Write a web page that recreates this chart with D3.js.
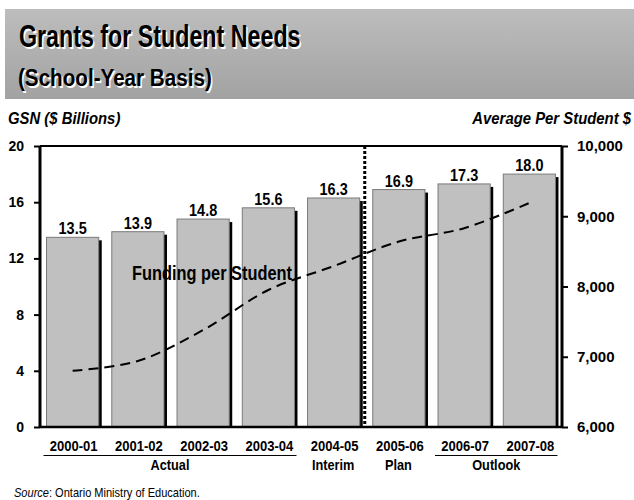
<!DOCTYPE html>
<html>
<head>
<meta charset="utf-8">
<script src="https://cdn.jsdelivr.net/npm/d3@7/dist/d3.min.js"></script>
<style>
  html, body { margin: 0; padding: 0; background: #fff; }
  svg { display: block; }
  text { font-family: "Liberation Sans", Arial, sans-serif; }
</style>
</head>
<body>
<svg id="chart" width="634" height="500"></svg>
<script>
// School years and Grants for Student Needs ($ billions)
const years = ["2000-01", "2001-02", "2002-03", "2003-04", "2004-05", "2005-06", "2006-07", "2007-08"];
const gsnBillions = [13.5, 13.9, 14.8, 15.6, 16.3, 16.9, 17.3, 18.0];
// Average funding per student ($)
const perStudent = [6800, 6940, 7380, 7950, 8290, 8640, 8830, 9190];

// Axis ticks
const leftTicks = [0, 4, 8, 12, 16, 20];
const rightTicks = [6000, 7000, 8000, 9000, 10000];

// Period groupings under the year labels
const groupLabels = ["Actual", "Interim", "Plan", "Outlook"];
const groupFirst = [0, 4, 5, 6];
const groupLast = [3, 4, 5, 7];
const groupUnderline = [true, false, false, true];

const svg = d3.select("#chart");

// Text drawn in a horizontally condensed bold face
function label(parent, x, y, str, size, opts = {}) {
  const sx = opts.sx ?? 0.85;
  const t = parent.append("text")
    .attr("transform", `translate(${x},${y}) scale(${sx},1)`)
    .attr("font-size", size)
    .attr("font-weight", opts.weight ?? "bold")
    .attr("text-anchor", opts.anchor ?? "start")
    .attr("fill", opts.fill ?? "#000");
  if (opts.italic) t.attr("font-style", "italic");
  if (str !== null) t.text(str);
  return t;
}

// ---- Title banner ----
const defs = svg.append("defs");
const grad = defs.append("linearGradient").attr("id", "banner").attr("x1", 0).attr("y1", 0).attr("x2", 0).attr("y2", 1);
grad.append("stop").attr("offset", "0%").attr("stop-color", "#bdbdbd");
grad.append("stop").attr("offset", "100%").attr("stop-color", "#a2a2a2");
svg.append("rect").attr("x", 5).attr("y", 9).attr("width", 629).attr("height", 90).attr("fill", "url(#banner)");

function shadowText(x, y, str, size, sx) {
  label(svg, x + 1.5, y + 1.5, str, size, { sx, fill: "#fff" });
  label(svg, x, y, str, size, { sx });
}
shadowText(19, 47, "Grants for Student Needs", 31, 0.75);
shadowText(18, 86, "(School-Year Basis)", 24, 0.86);

// ---- Scales ----
const plotLeft = 40, plotRight = 562, plotTop = 146, plotBottom = 427;
const x = d3.scaleBand().domain(years).range([plotLeft, plotRight]).paddingInner(0.2).paddingOuter(0.1);
const yL = d3.scaleLinear().domain([0, 20]).range([plotBottom, plotTop]);
const yR = d3.scaleLinear().domain([6000, 10000]).range([plotBottom, plotTop]);
const bw = x.bandwidth();

// ---- Axis titles ----
label(svg, 8, 124, "GSN ($ Billions)", 16, { italic: true, sx: 0.93 });
label(svg, 631, 124, "Average Per Student $", 16, { italic: true, anchor: "end", sx: 0.93 });

// ---- Bars with drop shadow ----
const bars = svg.append("g");
years.forEach((yr, i) => {
  const bx = x(yr), top = yL(gsnBillions[i]);
  bars.append("rect").attr("x", bx + 3).attr("y", top + 3).attr("width", bw).attr("height", plotBottom - top - 3)
    .attr("fill", "#000");
  bars.append("rect").attr("x", bx).attr("y", top).attr("width", bw).attr("height", plotBottom - top)
    .attr("fill", "#c0c0c0").attr("stroke", "#7a7a7a").attr("stroke-width", 1);
  label(svg, bx + bw / 2, top - 3, gsnBillions[i].toFixed(1), 17, { anchor: "middle", sx: 0.85 });
});

// ---- Divider between interim and plan years ----
const divX = (x(years[4]) + bw + x(years[5])) / 2 - 1.5;
svg.append("line").attr("x1", divX).attr("x2", divX).attr("y1", plotTop).attr("y2", plotBottom)
  .attr("stroke", "#000").attr("stroke-width", 3).attr("stroke-dasharray", "3,2");

// ---- Frame and axes ----
svg.append("line").attr("x1", plotLeft).attr("x2", plotRight).attr("y1", plotTop).attr("y2", plotTop)
  .attr("stroke", "#000").attr("stroke-width", 2);
svg.append("line").attr("x1", plotLeft).attr("x2", plotRight).attr("y1", plotBottom).attr("y2", plotBottom)
  .attr("stroke", "#000").attr("stroke-width", 2.5);

const leftAxis = svg.append("g").attr("transform", `translate(${plotLeft},0)`)
  .call(d3.axisLeft(yL).tickValues(leftTicks).tickSize(6).tickPadding(10).tickFormat(d3.format("d")));
leftAxis.select(".domain").attr("stroke-width", 3).attr("d", `M0,${plotTop}V${plotBottom}`);
leftAxis.selectAll(".tick line").attr("stroke-width", 2);
leftAxis.selectAll(".tick text").attr("font-family", "'Liberation Sans', Arial, sans-serif")
  .attr("font-weight", "bold").attr("font-size", 14).attr("fill", "#000");

const rightAxis = svg.append("g").attr("transform", `translate(${plotRight},0)`)
  .call(d3.axisRight(yR).tickValues(rightTicks).tickSize(6).tickPadding(9).tickFormat(d3.format(",")));
rightAxis.select(".domain").attr("stroke-width", 3).attr("d", `M0,${plotTop}V${plotBottom}`);
rightAxis.selectAll(".tick line").attr("stroke-width", 2);
rightAxis.selectAll(".tick text").attr("font-family", "'Liberation Sans', Arial, sans-serif")
  .attr("font-weight", "bold").attr("font-size", 15).attr("fill", "#000");

// ---- Funding per student line ----
const line = d3.line()
  .x((d, i) => x(years[i]) + bw / 2)
  .y(d => yR(d))
  .curve(d3.curveCatmullRom.alpha(0.5));
svg.append("path").datum(perStudent).attr("d", line).attr("fill", "none")
  .attr("stroke", "#000").attr("stroke-width", 2).attr("stroke-dasharray", "10,6");

label(svg, 212, 280, "Funding per Student", 20, { anchor: "middle", sx: 0.82 });

// ---- Year labels and groupings ----
years.forEach(yr => {
  label(svg, x(yr) + bw / 2 + 1, 451, yr, 15, { anchor: "middle", sx: 0.87 });
});
groupLabels.forEach((g, k) => {
  const x0 = x(years[groupFirst[k]]) - 3;
  const x1 = x(years[groupLast[k]]) + bw + 2;
  if (groupUnderline[k]) {
    svg.append("line").attr("x1", x0).attr("x2", x1).attr("y1", 455.5).attr("y2", 455.5)
      .attr("stroke", "#000").attr("stroke-width", 1);
  }
  label(svg, (x0 + x1) / 2, 470, g, 15, { anchor: "middle", sx: 0.85 });
});

// ---- Source note ----
const src = label(svg, 14, 497, null, 13, { weight: "normal", sx: 0.85 });
src.append("tspan").attr("font-style", "italic").text("Source");
src.append("tspan").text(":  Ontario Ministry of Education.");
</script>
</body>
</html>
